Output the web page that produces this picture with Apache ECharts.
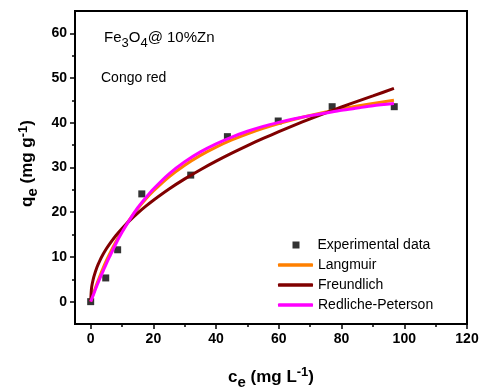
<!DOCTYPE html>
<html>
<head>
<meta charset="utf-8">
<script src="https://cdn.jsdelivr.net/npm/echarts@6/dist/echarts.min.js"></script>
<style>
  html, body { margin: 0; padding: 0; background: #fff; }
  #chart { width: 479px; height: 390px; }
</style>
</head>
<body>
<div id="chart"></div>
<script>
// experimental points
const expCe = [0, 4.8, 8.6, 16.3, 31.9, 43.6, 59.8, 77.0, 96.8]
const expQe = [0, 5.3, 11.6, 24.1, 28.3, 36.9, 40.4, 43.6, 43.6]

// fitted curves, sampled along Ce
const fitCe = [0, 0.25, 0.5, 1, 2, 3, 4, 5, 6, 8, 10, 12.5, 15, 17.5, 20, 25, 30, 35, 40, 45, 50, 55, 60, 65, 70, 75, 80, 85, 90, 96.7]
const langmuirQe = [0, 0.54, 1.07, 2.1, 4.05, 5.86, 7.56, 9.15, 10.64, 13.36, 15.78, 18.45, 20.8, 22.89, 24.74, 27.92, 30.52, 32.71, 34.56, 36.16, 37.54, 38.76, 39.83, 40.79, 41.64, 42.42, 43.12, 43.75, 44.34, 45.04]
const freundlichQe = [0, 2.89, 4.0, 5.55, 7.69, 9.3, 10.65, 11.83, 12.88, 14.75, 16.38, 18.19, 19.82, 21.31, 22.69, 25.2, 27.45, 29.51, 31.42, 33.21, 34.9, 36.5, 38.02, 39.48, 40.88, 42.22, 43.53, 44.79, 46.0, 47.7]
const redlichQe = [0, 0.45, 0.9, 1.8, 3.6, 5.3, 6.9, 8.5, 10.0, 12.9, 15.5, 18.4, 21.0, 23.2, 25.2, 28.6, 31.3, 33.5, 35.3, 36.8, 38.1, 39.2, 40.1, 40.9, 41.6, 42.2, 42.8, 43.3, 43.8, 44.3]

// axis ticks
const xMajor = [0, 20, 40, 60, 80, 100, 120]
const xMinor = [10, 30, 50, 70, 90, 110]
const yMajor = [0, 10, 20, 30, 40, 50, 60]
const yMinor = [5, 15, 25, 35, 45, 55]

const FONT = 'Liberation Sans, Arial, sans-serif'

const zip = (xs, ys) => xs.map((x, i) => [x, ys[i]])

const chart = echarts.init(document.getElementById('chart'))

const tickLabel = { fontSize: 14, fontWeight: 'bold', color: '#000', fontFamily: FONT, margin: 8 }

// rich styles for axis names with sub/superscripts
const nameRich = {
  a: { fontSize: 17, fontWeight: 'bold', fontFamily: FONT, color: '#000', lineHeight: 22 },
  s: { fontSize: 15, fontWeight: 'bold', fontFamily: FONT, color: '#000', verticalAlign: 'bottom', lineHeight: 15, padding: [0, 0, -2, 0] },
  p: { fontSize: 13, fontWeight: 'bold', fontFamily: FONT, color: '#000', verticalAlign: 'top', lineHeight: 12 }
}

const lineSeries = (name, color, data, z) => ({
  name, type: 'line', showSymbol: false, symbol: 'none',
  smooth: 0.25,
  lineStyle: { color, width: 3 }, itemStyle: { color },
  data, z
})

const option = {
  animation: false,
  backgroundColor: '#fff',
  grid: {
    left: 75, right: 12, top: 11, bottom: 66,
    show: true, borderColor: '#000', borderWidth: 2,
    containLabel: false, outerBoundsMode: 'none'
  },
  title: [
    {
      text: '{a|Fe}{s|3}{a|O}{s|4}{a|@ 10%Zn}',
      left: 99, top: 24,
      textStyle: {
        rich: {
          a: { fontSize: 15, fontWeight: 'normal', fontFamily: FONT, color: '#000', lineHeight: 18 },
          s: { fontSize: 13, fontWeight: 'normal', fontFamily: FONT, color: '#000', verticalAlign: 'bottom', lineHeight: 13, padding: [0, 0, -3, 0] }
        }
      }
    },
    {
      text: 'Congo red',
      left: 96, top: 66,
      textStyle: { fontSize: 14, fontWeight: 'normal', fontFamily: FONT, color: '#000' }
    }
  ],
  legend: [
    {
      orient: 'vertical',
      left: 287.5, top: 233,
      itemWidth: 7, itemHeight: 7,
      textStyle: { fontSize: 14, fontFamily: FONT, color: '#000', padding: [0, 0, 0, 13] },
      data: [{ name: 'Experimental data', icon: 'rect' }]
    },
    {
      orient: 'vertical',
      left: 273, top: 253,
      itemWidth: 35, itemHeight: 3.5, itemGap: 6,
      textStyle: { fontSize: 14, fontFamily: FONT, color: '#000' },
      data: [
        { name: 'Langmuir', icon: 'roundRect' },
        { name: 'Freundlich', icon: 'roundRect' },
        { name: 'Redliche-Peterson', icon: 'roundRect' }
      ]
    }
  ],
  xAxis: [
    {
      type: 'value', min: -5, max: 120,
      axisLine: { show: true, onZero: false, lineStyle: { color: '#000', width: 2 } },
      axisTick: { show: true, length: 5, customValues: xMajor, lineStyle: { color: '#000', width: 1.5 } },
      axisLabel: Object.assign({ customValues: xMajor }, tickLabel),
      splitLine: { show: false },
      name: '{a|c}{s|e}{a| (mg L}{p|-1}{a|)}',
      nameLocation: 'middle', nameGap: 42,
      nameTextStyle: { rich: nameRich }
    },
    {
      type: 'value', min: -5, max: 120, position: 'bottom',
      axisLine: { show: false, onZero: false },
      axisTick: { show: true, length: 3, customValues: xMinor, lineStyle: { color: '#000', width: 1.5 } },
      axisLabel: { show: false },
      splitLine: { show: false }
    }
  ],
  yAxis: [
    {
      type: 'value', min: -5, max: 65, position: 'left',
      axisLine: { show: true, onZero: false, lineStyle: { color: '#000', width: 2 } },
      axisTick: { show: true, length: 5, customValues: yMajor, lineStyle: { color: '#000', width: 1.5 } },
      axisLabel: Object.assign({ customValues: yMajor }, tickLabel),
      splitLine: { show: false },
      name: '{a|q}{s|e}{a| (mg g}{p|-1}{a|)}',
      nameLocation: 'middle', nameGap: 32, nameRotate: 90,
      nameTextStyle: { rich: nameRich, padding: [0, 0, 0, 8] }
    },
    {
      type: 'value', min: -5, max: 65, position: 'left',
      axisLine: { show: false, onZero: false },
      axisTick: { show: true, length: 3, customValues: yMinor, lineStyle: { color: '#000', width: 1.5 } },
      axisLabel: { show: false },
      splitLine: { show: false }
    }
  ],
  series: [
    {
      name: 'Experimental data', type: 'scatter',
      symbol: 'rect', symbolSize: 7,
      itemStyle: { color: '#000' },
      data: zip(expCe, expQe), z: 1
    },
    lineSeries('Langmuir', '#ff8000', zip(fitCe, langmuirQe), 2),
    lineSeries('Freundlich', '#800000', zip(fitCe, freundlichQe), 3),
    lineSeries('Redliche-Peterson', '#ff00ff', zip(fitCe, redlichQe), 4)
  ]
}

chart.setOption(option)
</script>
</body>
</html>
